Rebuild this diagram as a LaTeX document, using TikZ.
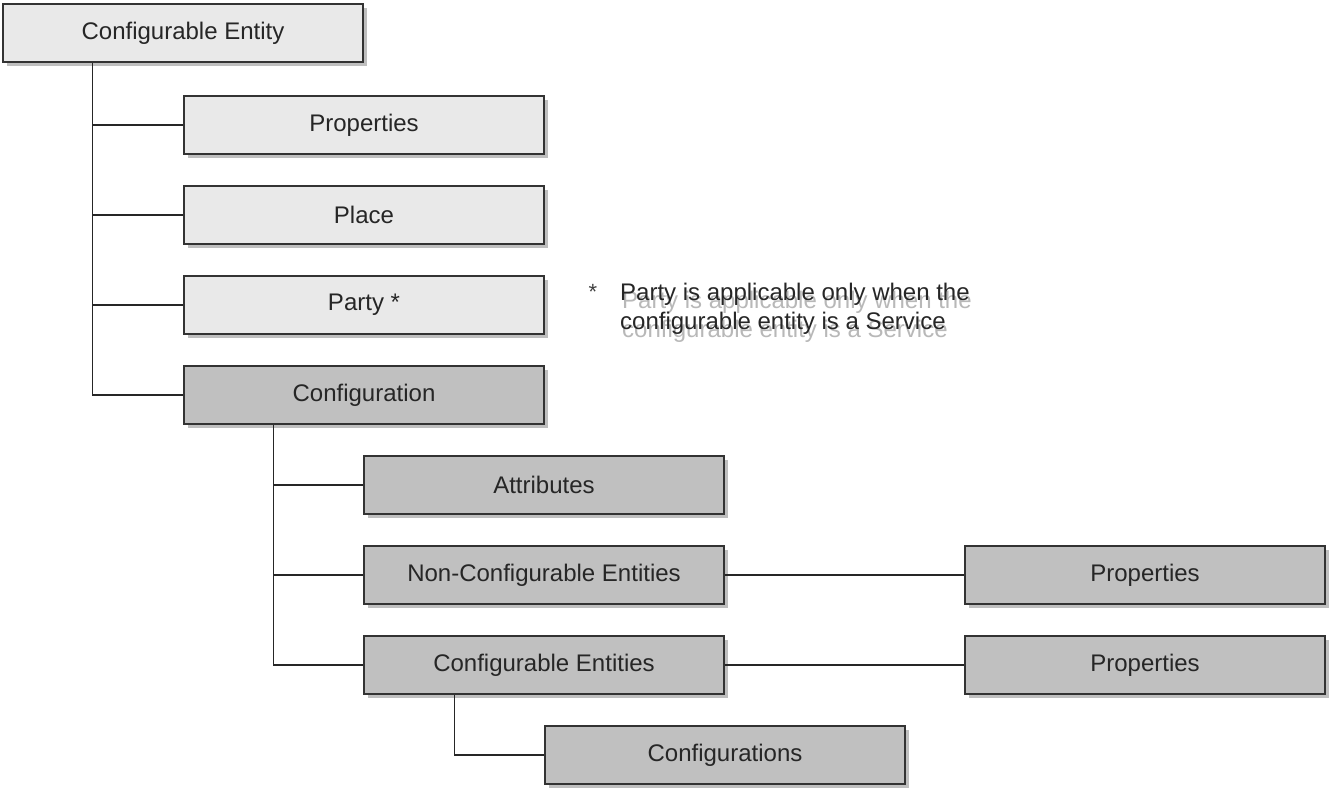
\documentclass[tikz,border=0pt]{standalone}
\usepackage{fontspec}
\setmainfont{Liberation Sans}
\usepackage{tikz}
\usetikzlibrary{shadows}
\definecolor{lightbox}{HTML}{E9E9E9}
\definecolor{darkbox}{HTML}{C0C0C0}
\definecolor{edgegray}{HTML}{333333}
\newcommand{\notelines}{\begin{tabular}[b]{@{}l@{}}Party is applicable only when the\\configurable entity is a Service\end{tabular}}
\tikzset{
  entity/.style={draw=edgegray,line width=1.6pt,fill=lightbox,
    minimum width=360pt,minimum height=58pt,inner sep=0pt,
    font=\fontsize{24}{29}\selectfont,text=black!85,
    drop shadow={shadow xshift=4pt,shadow yshift=-4pt,fill=black,opacity=0.25}},
  config/.style={entity,fill=darkbox},
  link/.style={line width=1.3pt,black!85},
  notetext/.style={font=\fontsize{24}{29}\selectfont,anchor=west,inner sep=0pt}
}

\begin{document}
\begin{tikzpicture}[x=1pt,y=-1pt]
  \useasboundingbox (0,0) rectangle (1330,789);
  % first level
  \node[entity] (ce) at (183,33) {Configurable Entity};
  \node[entity] (prop) at (364,125) {Properties};
  \node[entity] (place) at (364,215) {Place};
  \node[entity] (party) at (364,305) {Party *};
  \node[config] (conf) at (364,395) {Configuration};
  % configuration
  \node[config] (attr) at (544,485) {Attributes};
  \node[config] (nce) at (544,575) {Non-Configurable Entities};
  \node[config] (cents) at (544,665) {Configurable Entities};
  \node[config] (ncprop) at (1145,575) {Properties};
  \node[config] (cprop) at (1145,665) {Properties};
  \node[config] (confs) at (725,755) {Configurations};
  % trunks
  \path (ce.south west) ++(90,0) coordinate (ceroot);
  \path (conf.south west) ++(90,0) coordinate (confroot);
  \path (cents.south west) ++(91,0) coordinate (centsroot);
  \draw[link] (ceroot) |- (conf.west);
  \foreach \b in {prop,place,party}
     \draw[link] (\b.west -| ceroot) -- (\b.west);
  \draw[link] (confroot) |- (cents.west);
  \foreach \b in {attr,nce}
     \draw[link] (\b.west -| confroot) -- (\b.west);
  \draw[link] (nce.east) -- (ncprop.west);
  \draw[link] (cents.east) -- (cprop.west);
  \draw[link] (centsroot) |- (confs.west);
  % note, with its grey echo
  \node[notetext,text=black!85] (note) at (620,313)
    {\rlap{\kern2pt\raisebox{-8pt}{\color{black!28}\notelines}}\notelines};
  \node[inner sep=0pt,font=\fontsize{22}{24}\selectfont,text=black!75] (star) at (593,292) {*};
\end{tikzpicture}
\end{document}
